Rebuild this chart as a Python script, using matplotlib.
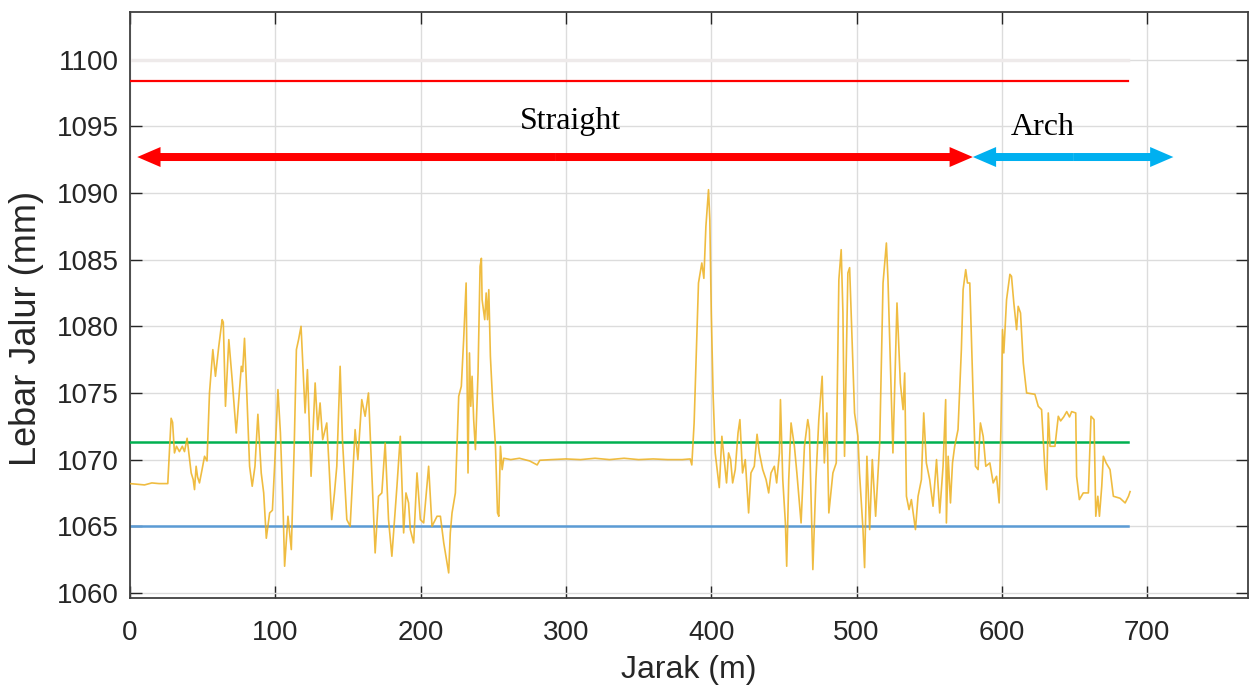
import matplotlib
matplotlib.use("Agg")
import matplotlib.pyplot as plt
from matplotlib.patches import FancyArrow

# data
jarak = [0, 10, 15, 20, 26.0, 28.3, 29.3, 30.6, 32, 34, 36, 37.5, 39.3, 42.1, 43.5, 44.4, 45.5, 46.5,
         47.8, 49.5, 51.3, 53, 54.7, 57.0, 58.8, 61.1, 63.4, 64.2, 65.7, 68.0, 70.3, 73.1, 76.6, 77.5,
         78.8, 80, 82.3, 84.1, 86, 88.0, 90.3, 92, 93.8, 96.1, 98, 99.5, 101.8, 103.5, 105.3, 106.4,
         108.7, 111.0, 113, 114.5, 116, 117.7,
         120.5, 122.1, 124.6, 127.4, 129.2, 130.8, 132.6, 135.4, 137.0, 138.8, 140.7, 142.3, 144.6,
         146.2, 149.2, 151.5, 154.9, 156.8, 159.5, 161.8, 164.1, 166.4, 168.7, 171.0, 173.3, 175.6,
         177.9, 180.2, 183.7, 186.0, 188.3, 189.9, 191.7, 192.9, 195.2, 197.5, 199.8, 202.1, 205.5,
         207.8, 211.3, 213.6, 215.9, 219.3,
         220.4, 221.6, 223.9, 226.2, 228, 229.6, 231.3, 232.6, 233.6, 234.5, 235.4, 236.5, 237.7,
         239.5, 240.9, 241.8, 242.3, 244.1, 245.1, 246, 246.9, 248, 249.6, 251.5, 252.9, 253.8,
         254.9, 256.1, 257.2, 262, 268, 275, 280.2, 282, 290, 300, 310, 320, 330, 340, 350, 360,
         370, 380, 385.5,
         386.6, 388.2, 389.4, 391.2, 393.5, 394.9, 396.3, 398.1, 399, 400, 401.3, 402.7, 404.3,
         405.5, 407.3, 408.9, 410.5, 411.9, 413.3, 414.7, 416.5, 418.4, 419.7, 421.5, 423.4, 425.7,
         427.3, 429.6, 431.5, 433.1, 435.4, 437.7, 439.5, 441.1, 443.4, 445.0, 446.9, 447.6, 449.2,
         451, 451.9, 453.3, 454.9, 457.2, 458.9, 461.8, 464.1, 466.4, 467.5, 469.9, 472, 474, 476.3,
         477.8, 479.5, 480.9, 483.7, 486, 487.8, 489.4, 490.6, 491.7, 494, 495.2, 498.6, 500.9, 502,
         504.4, 505.5, 507.1, 509, 510.8, 513.1, 515.9, 518.2, 520.5, 521.6, 523.2, 525, 527.8,
         530.1, 532, 533.1, 534.3, 536.1, 537.7, 540.5, 542.3, 544.6, 546.2, 548, 550.3, 552.6, 555,
         557.2, 559.5, 561.3, 561.8, 563, 564.6, 566, 567.5, 569.8, 572.1, 573.3, 575.1, 576.3,
         577.9, 580.2, 581.8, 583.6, 585.2, 587.1, 588.9, 591.7, 594, 596.3, 598.1, 599.3, 600.4,
         601.3, 603.2, 605.5, 606.6, 608.2, 610.1, 611.2, 612.8, 614.7, 617, 622.7, 625, 627.3,
         629.6, 630.8, 631.9, 633.1, 636.5, 638.8, 640.4, 642.5, 644.6, 646.5, 648, 650.8, 651.4,
         653.3, 656, 659.5, 661.3, 663.4, 664.6, 666, 667.1, 668.7, 669.8, 671.7, 674.4, 676.7,
         681.3, 684.8, 687.1, 688.2]
lebar = [1068.2, 1068.1, 1068.25, 1068.2, 1068.2, 1073.1, 1072.8, 1070.5, 1071.0, 1070.6, 1071.0,
         1070.6, 1071.6, 1069.0, 1068.5, 1067.75, 1069.5, 1068.7, 1068.25, 1069.2, 1070.25, 1069.9,
         1075.0, 1078.25, 1076.25, 1078.5, 1080.5, 1080.3, 1074.0, 1079.0, 1076.0, 1072.0, 1077.0,
         1076.6, 1079.1, 1076.0, 1069.5, 1068.0, 1069.5, 1073.4, 1069.0, 1067.5, 1064.1, 1066.0,
         1066.2, 1069.5, 1075.25, 1072.0, 1066.5, 1062.0, 1065.75, 1063.25, 1071.0, 1078.25, 1079.0,
         1080.0,
         1073.5, 1076.75, 1068.75, 1075.75, 1072.25, 1074.25, 1071.5, 1072.75, 1069.5, 1065.5,
         1067.5, 1069.5, 1077.0, 1071.5, 1065.5, 1065.0, 1072.25, 1070.0, 1074.5, 1073.25, 1075.0,
         1069.0, 1063.0, 1067.25, 1067.5, 1071.25, 1065.5, 1062.75, 1068.0, 1071.75, 1064.5, 1067.5,
         1066.75, 1064.75, 1063.75, 1069.0, 1065.5, 1065.25, 1069.5, 1065.0, 1065.75, 1065.75,
         1063.75, 1061.5,
         1064.5, 1066.0, 1067.5, 1074.75, 1075.5, 1079.0, 1083.25, 1069.0, 1078.0, 1074.0, 1076.25,
         1073.0, 1070.75, 1076.5, 1084.5, 1085.1, 1082.0, 1080.5, 1082.5, 1080.5, 1082.75, 1077.75,
         1074.25, 1071.0, 1066.0, 1065.75, 1071.0, 1069.25, 1070.1, 1070.0, 1070.1, 1069.9, 1069.6,
         1069.95, 1070.0, 1070.05, 1070.0, 1070.1, 1070.0, 1070.1, 1070.0, 1070.05, 1070.0, 1070.0,
         1070.05,
         1069.6, 1072.75, 1077.0, 1083.25, 1084.75, 1083.6, 1087.5, 1090.25, 1088.0, 1081.0, 1074.75,
         1070.5, 1069.0, 1067.9, 1071.75, 1070.0, 1068.25, 1070.5, 1070.0, 1068.25, 1069.25, 1072.0,
         1073.0, 1069.0, 1070.0, 1066.0, 1069.0, 1069.5, 1071.9, 1070.5, 1069.25, 1068.5, 1067.5,
         1069.0, 1069.5, 1068.25, 1070.5, 1074.5, 1068.5, 1065.25, 1062.0, 1068.5, 1072.75, 1071.0,
         1069.0, 1065.25, 1071.0, 1073.0, 1072.25, 1061.75, 1068.5, 1073.0, 1076.25, 1069.75, 1073.5,
         1066.0, 1069.0, 1069.75, 1083.5, 1085.75, 1081.0, 1070.25, 1084.0, 1084.4, 1073.5, 1071.75,
         1069.0, 1064.75, 1061.9, 1070.25, 1064.75, 1070.0, 1065.75, 1071.25, 1083.25, 1086.25,
         1083.5, 1077.25, 1070.5, 1081.75, 1075.75, 1073.75, 1076.5, 1067.25, 1066.25, 1067.0,
         1064.75, 1067.25, 1068.5, 1073.5, 1069.75, 1068.5, 1066.5, 1070.0, 1066.0, 1069.5, 1074.5,
         1065.25, 1070.25, 1066.75, 1069.75, 1071.0, 1072.25, 1078.25, 1082.75, 1084.25, 1083.25,
         1083.25, 1074.75, 1069.5, 1069.25, 1072.75, 1071.75, 1069.5, 1069.75, 1068.25, 1068.75,
         1066.75, 1072.25, 1079.75, 1078.0, 1082.0, 1083.9, 1083.75, 1081.75, 1079.75, 1081.5,
         1081.0, 1077.25, 1075.0, 1074.9, 1074.0, 1073.75, 1069.25, 1067.75, 1073.5, 1071.0, 1071.0,
         1073.25, 1072.9, 1073.2, 1073.6, 1073.2, 1073.6, 1073.5, 1068.75, 1067.0, 1067.5, 1067.5,
         1073.25, 1073.0, 1065.75, 1067.25, 1065.75, 1068.0, 1070.25, 1069.75, 1069.25, 1067.25,
         1067.1, 1066.75, 1067.25, 1067.6]

batas_putih = 1100.0
batas_merah = 1098.4
batas_hijau = 1071.3
batas_biru = 1065.0
jarak_akhir = 687

segmen_label = ["Straight", "Arch"]
segmen_batas = [5, 580, 718]

plt.rcParams['font.family'] = ['Liberation Sans', 'DejaVu Sans']

fig = plt.figure(figsize=(12.5, 6.9), dpi=100)
ax = fig.add_axes([0.104, 0.133, 0.894, 0.85])

ax.plot([0, jarak_akhir], [batas_putih] * 2, color='#eeeaea', lw=2.5, zorder=2)
ax.plot([0, jarak_akhir], [batas_merah] * 2, color='#ff0000', lw=1.6, zorder=3)
ax.plot([0, jarak_akhir], [batas_hijau] * 2, color='#00b050', lw=1.8, zorder=3)
ax.plot([0, jarak_akhir], [batas_biru] * 2, color='#5b9bd5', lw=1.8, zorder=2)
ax.plot(jarak, lebar, color='#edb120', lw=1.2, alpha=0.85, zorder=4)

# double arrows drawn from the middle of each segment outward
y_panah = 1092.7
warna_panah = ['#ff0000', '#00b0f0']
for i in range(2):
    a, b = segmen_batas[i], segmen_batas[i + 1]
    mid = (a + b) / 2
    for ujung in (a, b):
        ax.add_patch(FancyArrow(mid, y_panah, ujung - mid, 0, width=0.6, head_width=1.5,
                                head_length=16, length_includes_head=True,
                                color=warna_panah[i], lw=0, zorder=5, clip_on=False))

ax.text(303, 1095.4, segmen_label[0], family='Liberation Serif', fontsize=23,
        ha='center', va='center', color='black')
ax.text(628, 1094.9, segmen_label[1], family='Liberation Serif', fontsize=23,
        ha='center', va='center', color='black')

ax.set_xlim(0, 769)
ax.set_ylim(1059.6, 1103.6)
ax.set_xticks(range(0, 701, 100))
ax.set_yticks(range(1060, 1101, 5))
ax.grid(True, color='#dcdcdc', lw=1)
ax.set_axisbelow(True)
ax.tick_params(direction='in', length=8.5, width=1, colors='#262626', labelsize=20,
               top=True, right=True)
ax.tick_params(axis='x', pad=16)
ax.tick_params(axis='y', pad=8)
for s in ax.spines.values():
    s.set_color('#404040')
    s.set_linewidth(1.3)

ax.set_xlabel('Jarak (m)', fontsize=23, color='#262626', labelpad=6)
ax.set_ylabel('Lebar Jalur (mm)', fontsize=26, color='#262626')
ax.yaxis.set_label_coords(-0.077, 0.46)

fig.savefig('out.png', dpi=100)
